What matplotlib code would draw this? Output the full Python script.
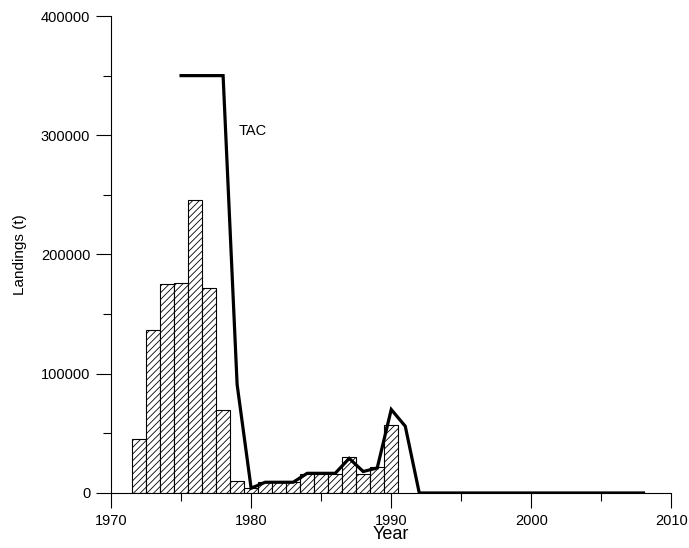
import numpy as np
from matplotlib import pyplot as plt

plt.rcParams['font.family'] = ['Liberation Sans', 'DejaVu Sans']
plt.rcParams['hatch.linewidth'] = 0.6

# landings by year (bars)
anios = np.arange(1972, 1991)
capturas = [45000, 137000, 175000, 176000, 246000, 172000, 70000, 10000, 4500,
            9000, 9000, 9500, 16000, 16000, 16000, 30000, 16000, 22000, 57000]

# TAC line
anios_tac = np.arange(1975, 2009)
tac = [350000, 350000, 350000, 350000, 91000, 4000, 9000, 9000, 9000,
       16500, 16500, 16500, 29000, 18000, 21000, 70000, 56000,
       0, 0, 0, 0, 0, 0, 0, 0, 0, 0, 0, 0, 0, 0, 0, 0, 0]

figura = plt.figure(figsize=(6.89, 5.48), dpi=100)
ax = figura.add_axes([0.1611, 0.1004, 0.8135, 0.8704])

ax.bar(anios, capturas, width=1.0, color='white', edgecolor='black',
       linewidth=0.8, hatch='/////')
ax.plot(anios_tac, tac, color='black', linewidth=2.3, solid_joinstyle='miter')
ax.text(1979.1, 300000, 'TAC', fontsize=10.5, va='baseline', ha='left')

ax.set_xlim(1970, 2010)
ax.set_ylim(0, 400000)
ax.set_xticks([1970, 1980, 1990, 2000, 2010])
ax.set_xticks([1975, 1985, 1995, 2005], minor=True)
ax.set_yticks([0, 100000, 200000, 300000, 400000])
ax.set_yticks([50000, 150000, 250000, 350000], minor=True)
ax.tick_params(which='major', length=11, width=0.8, labelsize=10.5, pad=4)
ax.tick_params(which='minor', length=5.5, width=0.8)

for lado in ['top', 'right']:
    ax.spines[lado].set_visible(False)
for lado in ['left', 'bottom']:
    ax.spines[lado].set_linewidth(0.8)

ax.set_xlabel('Year', fontsize=13, labelpad=-1)
ax.set_ylabel('Landings (t)', fontsize=11, labelpad=10)

figura.savefig('out.png', dpi=100)
